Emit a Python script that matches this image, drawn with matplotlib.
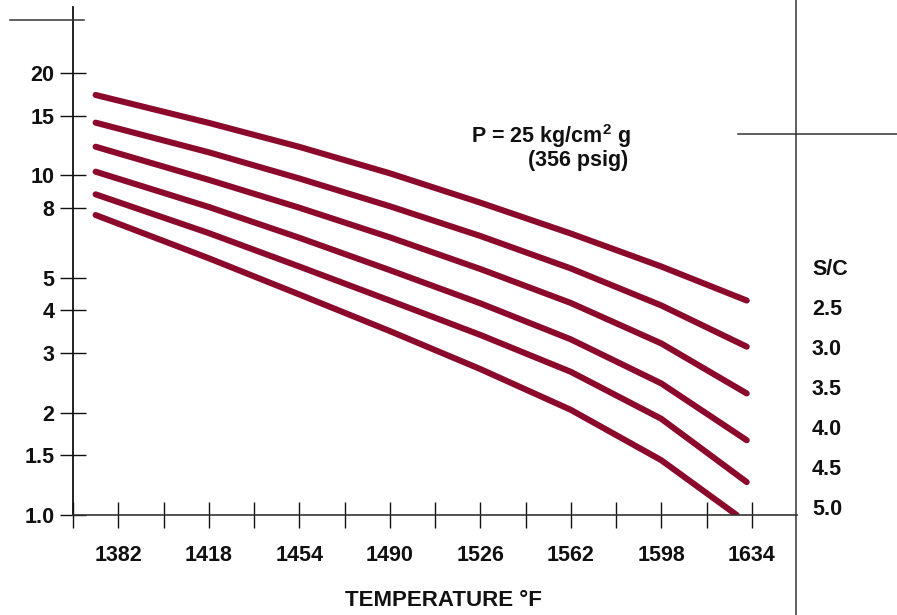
import matplotlib
matplotlib.use("Agg")
import matplotlib.pyplot as plt
from matplotlib.lines import Line2D

plt.rcParams['font.family'] = ['Liberation Sans', 'DejaVu Sans']
plt.rcParams['mathtext.fontset'] = 'custom'
plt.rcParams['mathtext.rm'] = 'Liberation Sans:bold'
plt.rcParams['mathtext.it'] = 'Liberation Sans:bold'
plt.rcParams['mathtext.bf'] = 'Liberation Sans:bold'

# ---- data ----
temps = [1373, 1418, 1454, 1490, 1526, 1562, 1598, 1632]
temps_50 = [1373, 1418, 1454, 1490, 1526, 1562, 1598, 1628]
sc_25 = [17.24, 14.27, 12.13, 10.14, 8.31, 6.74, 5.39, 4.28]
sc_30 = [14.29, 11.69, 9.79, 8.11, 6.63, 5.32, 4.14, 3.13]
sc_35 = [12.14, 9.70, 8.03, 6.57, 5.30, 4.21, 3.20, 2.28]
sc_40 = [10.25, 8.07, 6.55, 5.26, 4.20, 3.29, 2.44, 1.66]
sc_45 = [8.79, 6.76, 5.39, 4.28, 3.39, 2.64, 1.92, 1.25]
sc_50 = [7.64, 5.70, 4.46, 3.48, 2.69, 2.04, 1.45, 1.0]
sc_labels = ["2.5", "3.0", "3.5", "4.0", "4.5", "5.0"]

x_ticks = [1364, 1382, 1400, 1418, 1436, 1454, 1472, 1490, 1508, 1526,
           1544, 1562, 1580, 1598, 1616, 1634]
x_tick_labels = ["", "1382", "", "1418", "", "1454", "", "1490", "", "1526",
                 "", "1562", "", "1598", "", "1634"]
y_ticks = [1.0, 1.5, 2, 3, 4, 5, 8, 10, 15, 20]
y_tick_labels = ["1.0", "1.5", "2", "3", "4", "5", "8", "10", "15", "20"]

W, H = 897, 615
fig = plt.figure(figsize=(W / 100, H / 100), dpi=100)
ax = fig.add_axes([73 / W, 100 / H, (797 - 73) / W, (515 - 7) / H])

color = '#8b0a2c'
series = [(temps, sc_25), (temps, sc_30), (temps, sc_35),
          (temps, sc_40), (temps, sc_45), (temps_50, sc_50)]
for xs, ys in series:
    ax.plot(xs, ys, color=color, lw=4.4, solid_capstyle='round',
            solid_joinstyle='round')

ax.set_yscale('log')
ax.set_xlim(1364, 1652)
ax.set_ylim(1.0, 31.3)
ax.set_xticks(x_ticks)
ax.set_xticklabels(x_tick_labels)
ax.set_yticks(y_ticks)
ax.set_yticklabels(y_tick_labels)
ax.minorticks_off()

for s in ['top', 'right']:
    ax.spines[s].set_visible(False)
ax.spines['left'].set_linewidth(1.3)
ax.spines['bottom'].set_linewidth(1.2)
ax.spines['left'].set_color('#111111')
ax.spines['bottom'].set_color('#333333')

FS = 15.5
ax.tick_params(axis='x', direction='inout', length=19, width=1.0,
               pad=12, labelsize=FS, colors='#111111')
ax.tick_params(axis='y', direction='inout', length=19, width=1.0,
               pad=4, labelsize=FS, colors='#111111')
for lab in ax.get_xticklabels() + ax.get_yticklabels():
    lab.set_fontweight('bold')

# axis title
fig.text(443 / W, 1 - 601 / H, "TEMPERATURE °F", ha='center', va='center',
         fontsize=16, fontweight='bold', color='#111111')

# annotation
fig.text(631 / W, 1 - 136 / H, r"P = 25 kg/c$\mathrm{m}^{2}$ g", ha='right',
         va='center', fontsize=FS, fontweight='bold', color='#111111')
fig.text(628 / W, 1 - 160 / H, "(356 psig)", ha='right', va='center',
         fontsize=FS, fontweight='bold', color='#111111')

# S/C legend
fig.text(812 / W, 1 - 270 / H, "S/C", ha='left', va='center',
         fontsize=FS, fontweight='bold', color='#111111')
for i, lab in enumerate(sc_labels):
    fig.text(812 / W, 1 - (309.5 + 40 * i) / H, lab, ha='left', va='center',
             fontsize=FS, fontweight='bold', color='#111111')

# frame lines
fig.add_artist(Line2D([796 / W, 796 / W], [0, 1], color='#333333', lw=1.1))
fig.add_artist(Line2D([738 / W, 1], [1 - 133.5 / H, 1 - 133.5 / H],
                      color='#333333', lw=1.1))
fig.add_artist(Line2D([10 / W, 84 / W], [1 - 20 / H, 1 - 20 / H],
                      color='#333333', lw=1.1))

fig.savefig('out.png', dpi=100)
